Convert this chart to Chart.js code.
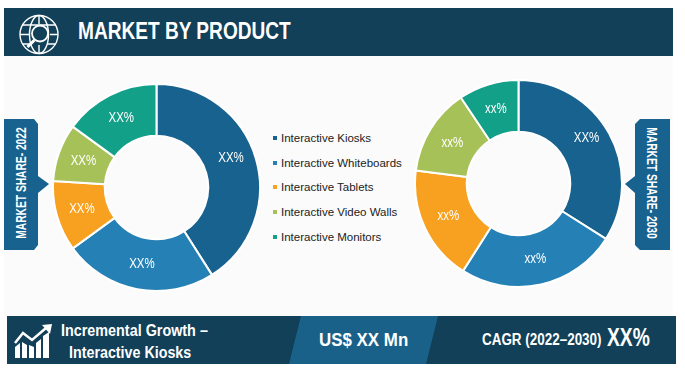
<!DOCTYPE html>
<html lang="en">
<head>
  <meta charset="UTF-8">
  <title>Market By Product</title>
  <script src="https://cdn.jsdelivr.net/npm/chart.js"></script>
  <style>
    * { margin: 0; padding: 0; box-sizing: border-box; }
    body { width: 685px; height: 369px; background: #fff; overflow: hidden; position: relative; font-family: "Liberation Sans", sans-serif; }
    .abs { position: absolute; white-space: nowrap; }
    #panel { left: 4px; top: 56px; width: 669px; height: 260px; background: #fbfbfb; }
    #head { left: 4px; top: 8px; width: 669px; height: 48px; background: #124059; }
    #title { left: 78px; top: 16px; font-size: 24px; line-height: 30px; font-weight: bold; color: #fff; transform: scaleX(.795); transform-origin: 0 0; }
    #foot { left: 7px; top: 316px; width: 669px; height: 48px; background: #124059; }
    #mid { left: 289px; top: 316px; width: 149px; height: 48px; background: #1a6189; clip-path: polygon(12px 0, 100% 0, 137px 100%, 0 100%); }
    .txt { color: #fff; font-weight: bold; transform-origin: 0 0; }
    .tag { background: #17628f; top: 119px; width: 45px; height: 131px; }
    #tagL { left: 4px; clip-path: polygon(0 0, 30px 0, 34px 5px, 34px 57px, 45px 65px, 34px 74px, 34px 126px, 30px 131px, 0 131px); }
    #tagR { left: 625px; clip-path: polygon(15px 0, 45px 0, 45px 131px, 15px 131px, 10px 126px, 10px 74px, 0 65px, 10px 57px, 10px 5px); }
    .tagtxt { color: #fff; font-weight: bold; font-size: 14px; line-height: 16px; width: 160px; text-align: center; }
    #legend { left: 273px; top: 0; }
    .lg { position: absolute; left: 0; font: 11.5px "Liberation Sans", sans-serif; color: #222; line-height: 14px; }
    .lg i { position: absolute; left: 0; top: 5px; width: 4px; height: 4px; }
    .lg span { position: absolute; left: 8px; top: 0; white-space: nowrap; }
    canvas { position: absolute; }
  </style>
</head>
<body>
  <div class="abs" id="panel"></div>
  <div class="abs" id="head"></div>
  <svg class="abs" style="left:19px;top:14px" width="40" height="41" viewBox="0 0 40 41" fill="none" stroke="#fff" stroke-width="1.4">
    <circle cx="20" cy="20.5" r="19"/>
    <ellipse cx="20" cy="20.500" rx="9.500" ry="19"/>
    <path d="M20 1.500V10M3.500 11h33M1 20.500h9M31 20.500h8M3.500 30h8M28 30h8.500M20 31v8.500"/>
    <circle cx="21" cy="19.500" r="8" fill="#124059" stroke-width="1.800"/>
    <path d="M15.500 26 8.500 33" stroke-width="3"/>
  </svg>
  <div class="abs" id="title">MARKET BY PRODUCT</div>

  <div class="abs tag" id="tagL"></div>
  <div class="abs tagtxt" style="left:-59px;top:175px;transform:rotate(-90deg) scaleX(.73)">MARKET SHARE- 2022</div>
  <div class="abs tag" id="tagR"></div>
  <div class="abs tagtxt" style="left:572px;top:175px;transform:rotate(90deg) scaleX(.73)">MARKET SHARE- 2030</div>

  <canvas id="share2022" width="209" height="209" style="left:52px;top:83px"></canvas>
  <canvas id="share2030" width="209" height="209" style="left:414px;top:79px"></canvas>
  <div class="abs" id="legend"></div>

  <div class="abs" id="foot"></div>
  <div class="abs" id="mid"></div>
  <svg class="abs" style="left:14px;top:324px" width="39" height="34" viewBox="0 0 39 34" fill="#fff">
    <path d="M1 34V23l5-4v15zM8 34V18l5 3v13zM15 34V21l5 2v11zM22 34V19l5-4v19zM29 34V12l6-4v26z"/>
    <path d="M1 19 9 9l9 7L32 4" fill="none" stroke="#fff" stroke-width="2.500"/>
    <path d="M28 1 38 0 36 10z"/>
  </svg>
  <div class="abs txt" style="left:61px;top:320px;font-size:17px;line-height:22px;transform:scaleX(.845)">Incremental Growth –</div>
  <div class="abs txt" style="left:69px;top:342px;font-size:17px;line-height:22px;transform:scaleX(.84)">Interactive Kiosks</div>
  <div class="abs txt" style="left:319px;top:329px;font-size:19px;line-height:22px;transform:scaleX(.89)">US$ XX Mn</div>
  <div class="abs txt" style="left:482px;top:329px;font-size:16px;line-height:22px;transform:scaleX(.84)">CAGR (2022–2030)</div>
  <div class="abs txt" style="left:607px;top:322px;font-size:26px;line-height:30px;transform:scaleX(.74)">XX%</div>

  <script>
    var categories = ['Interactive Kiosks', 'Interactive Whiteboards', 'Interactive Tablets', 'Interactive Video Walls', 'Interactive Monitors'];
    var share2022 = [41, 24, 11, 9, 15];
    var share2030 = [34, 25, 18, 13.6, 9.4];
    var labels2022 = ['XX%', 'XX%', 'XX%', 'XX%', 'XX%'];
    var labels2030 = ['XX%', 'xx%', 'xx%', 'xx%', 'xx%'];
    var colors = ['#17628f', '#2581b5', '#f8a01f', '#a7c159', '#13a088'];

    // labels on the slices, the kiosk one sits a bit above the middle of its slice
    var sliceLabels = {
      id: 'sliceLabels',
      afterDatasetsDraw: function(chart, args, opts) {
        var ctx = chart.ctx;
        chart.getDatasetMeta(0).data.forEach(function(arc, i) {
          var p = arc.tooltipPosition();
          ctx.save();
          ctx.translate(p.x, p.y + (i === 0 ? -8 : 0));
          ctx.scale(0.82, 1); // no narrow font here
          ctx.font = '14px "Liberation Sans", sans-serif';
          ctx.fillStyle = '#fff';
          ctx.textAlign = 'center';
          ctx.textBaseline = 'middle';
          ctx.fillText(opts.texts[i], 0, 0);
          ctx.restore();
        });
      }
    };

    function donut(id, values, texts) {
      new Chart(document.getElementById(id), {
        type: 'doughnut',
        data: {
          labels: categories,
          datasets: [{ data: values, backgroundColor: colors, borderColor: '#fff', borderWidth: 2 }]
        },
        options: {
          responsive: false,
          animation: false,
          cutout: '50%',
          plugins: {
            legend: { display: false },
            tooltip: { enabled: false },
            sliceLabels: { texts: texts }
          }
        },
        plugins: [sliceLabels]
      });
    }

    donut('share2022', share2022, labels2022);
    donut('share2030', share2030, labels2030);

    var legendEl = document.getElementById('legend');
    categories.forEach(function(name, i) {
      var row = document.createElement('div');
      row.className = 'lg';
      row.style.top = (131 + i * 24.7) + 'px';
      row.innerHTML = '<i style="background:' + colors[i] + '"></i><span>' + name + '</span>';
      legendEl.appendChild(row);
    });
  </script>
</body>
</html>
